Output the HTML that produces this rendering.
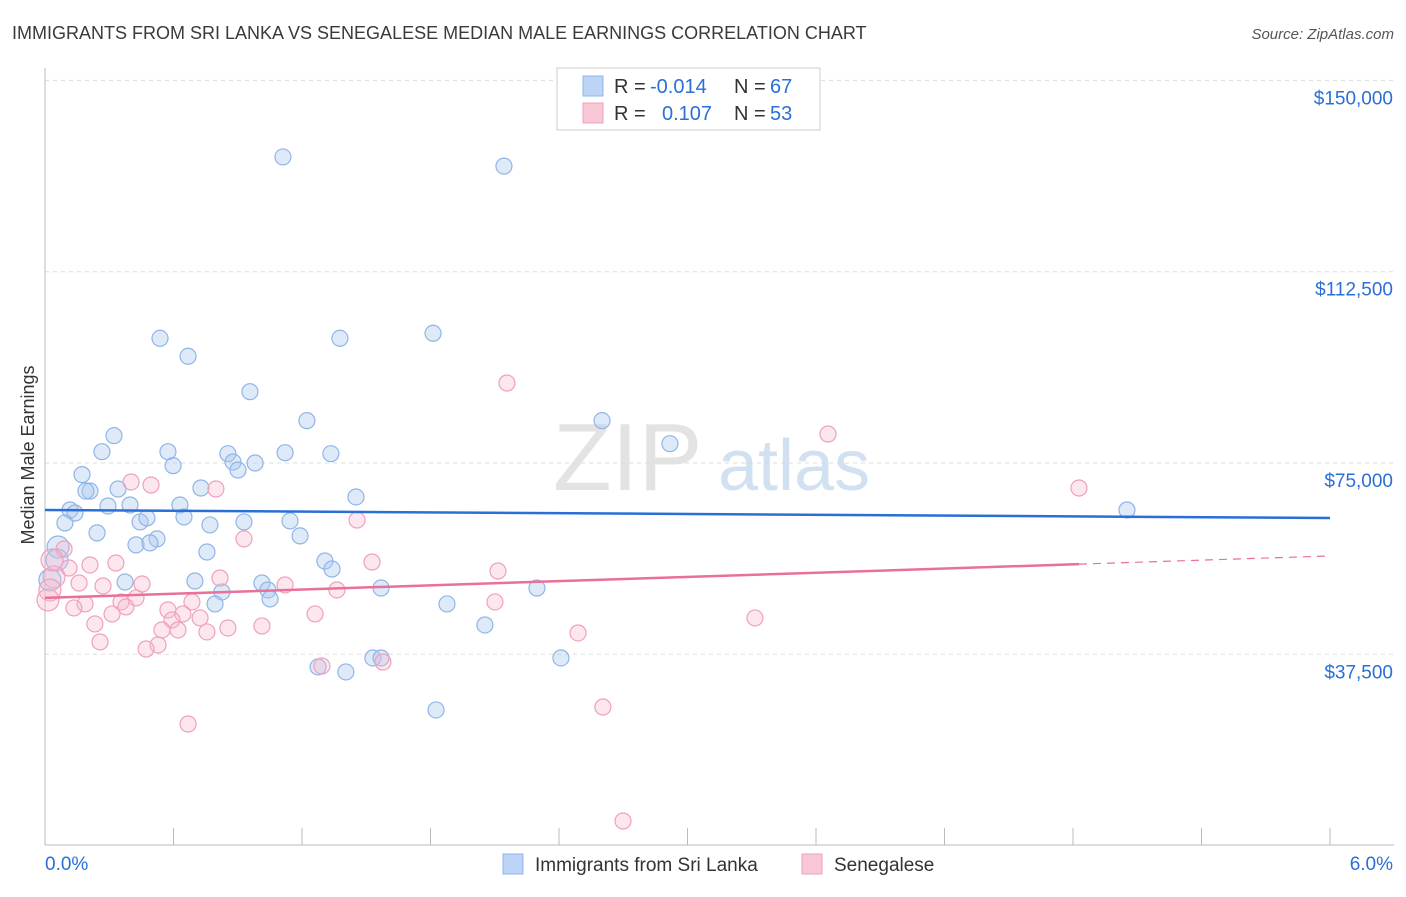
<!DOCTYPE html>
<html><head><meta charset="utf-8"><style>
body{margin:0;background:#fff;font-family:"Liberation Sans",sans-serif;}
svg text{font-family:"Liberation Sans",sans-serif;}
</style></head><body>
<svg id="chart" width="1406" height="892" xmlns="http://www.w3.org/2000/svg">
<text x="12" y="39" font-size="18" fill="#3a3a3a">IMMIGRANTS FROM SRI LANKA VS SENEGALESE MEDIAN MALE EARNINGS CORRELATION CHART</text>
<text x="1394" y="39" font-size="15" fill="#555" text-anchor="end" font-style="italic">Source: ZipAtlas.com</text>
<text transform="translate(34,455) rotate(-90)" font-size="18" fill="#333" text-anchor="middle">Median Male Earnings</text>
<g id="grid"></g>
<text x="553" y="490" font-size="96" fill="#ddd" font-family="Liberation Serif" opacity="0.8">ZIP</text>
<text x="718" y="490" font-size="72" fill="#c8daf0" opacity="0.8">atlas</text>
<g id="pts"></g>
<g id="trend"></g>
<g>
<rect x="557" y="68" width="263" height="62" fill="#fff" stroke="#ccc"/>
<rect x="583" y="76" width="20" height="20" fill="#bcd4f6" stroke="#8fb5e8"/>
<rect x="583" y="103" width="20" height="20" fill="#f9c8d6" stroke="#f0a0bb"/>
<text x="614" y="93" font-size="20" fill="#333">R =</text>
<text x="650" y="93" font-size="20" fill="#2a6fd6">-0.014</text>
<text x="734" y="93" font-size="20" fill="#333">N =</text>
<text x="770" y="93" font-size="20" fill="#2a6fd6">67</text>
<text x="614" y="120" font-size="20" fill="#333">R =</text>
<text x="662" y="120" font-size="20" fill="#2a6fd6">0.107</text>
<text x="734" y="120" font-size="20" fill="#333">N =</text>
<text x="770" y="120" font-size="20" fill="#2a6fd6">53</text>
</g>
<g>
<rect x="503" y="854" width="20" height="20" fill="#bcd4f6" stroke="#8fb5e8"/>
<text x="535" y="871" font-size="19" fill="#333">Immigrants from Sri Lanka</text>
<rect x="802" y="854" width="20" height="20" fill="#f9c8d6" stroke="#f0a0bb"/>
<text x="834" y="871" font-size="19" fill="#333">Senegalese</text>
</g>
</svg>
<script>
const blueX=[1.111,2.143,0.537,0.668,1.377,1.812,0.957,1.223,2.601,2.918,0.322,0.266,0.574,0.854,1.121,1.335,0.598,0.173,0.878,0.901,0.981,0.210,0.191,0.341,0.728,1.452,0.117,0.140,0.294,0.397,0.630,0.093,0.444,0.476,0.649,0.770,0.929,1.144,0.243,0.523,0.425,0.490,1.191,0.756,0.061,0.056,1.307,1.340,0.374,0.700,1.013,1.041,1.569,2.297,0.826,0.794,1.051,1.877,2.054,1.275,1.405,1.531,1.569,2.409,1.826,5.052,0.023];
const blueY=[135000,133200,99450,95920,99450,100430,88980,83300,83300,78790,80360,77220,77220,76830,77020,76830,74480,72720,75200,73630,75000,69510,69510,69900,70100,68340,65790,65200,66570,66770,66770,63250,63450,64230,64430,62860,63450,63650,61300,60120,58950,59340,60710,57550,58530,55990,55790,54220,51670,51870,51480,50110,50500,50500,49720,47370,48350,47370,43250,35020,34040,36780,36780,36780,26590,65790,52070];
const pinkX=[2.157,3.656,4.828,0.402,0.495,0.798,1.457,0.929,0.089,1.527,0.331,0.210,0.112,2.115,0.042,0.817,0.159,0.271,0.453,1.121,1.363,0.023,0.425,0.355,0.686,2.101,0.187,0.135,0.574,0.378,0.313,1.261,0.644,0.724,0.593,3.315,0.233,1.013,0.854,0.546,0.621,0.756,2.489,0.257,0.528,0.472,1.293,1.578,0.668,2.605,2.699,0.014,0.033];
const pinkY=[90680,80680,70100,71280,70690,69900,63820,60120,58140,55590,55400,55010,54410,53830,52660,52460,51480,50890,51280,51090,50110,50110,48550,47760,47760,47760,47370,46590,46190,46790,45410,45410,45410,44630,44240,44630,43450,43060,42660,42270,42270,41880,41680,39920,39330,38540,35210,35990,23840,27170,4820,48160,56000];
const yTicks=[37500,75000,112500,150000];
const yTickLabels=["$37,500","$75,000","$112,500","$150,000"];
const blueTrend=[65790,64220];
const pinkTrend=[48550,56780];
const pinkSolidEnd=4.828;
const NS="http://www.w3.org/2000/svg";
const X=v=>45+v/6*1285, Y=v=>845.6-v/37500*191.3;
function mk(t,a,p){const e=document.createElementNS(NS,t);for(const k in a)e.setAttribute(k,a[k]);p.appendChild(e);return e;}
const g=document.getElementById('grid');
yTicks.forEach((t,i)=>{
 const l=mk('line',{x1:45,x2:1394,y1:Y(t),y2:Y(t),stroke:'#ddd','stroke-dasharray':'4,4'},g);
 
 
 const tx=mk('text',{x:1393,y:Y(t)+24,'font-size':19,fill:'#2a6fd6','text-anchor':'end'},g);
 tx.textContent=yTickLabels[i];
 
 
});
const ax=mk('line',{x1:45,x2:1394,y1:845,y2:845,stroke:'#bbb'},g);


const ay=mk('line',{x1:45,x2:45,y1:68,y2:845,stroke:'#bbb'},g);


for(let i=0;i<=10;i++){const t=mk('line',{x1:X(i*0.6),x2:X(i*0.6),y1:828,y2:845,stroke:'#bbb'},g);
 
 }
const x0=mk('text',{x:45,y:870,'font-size':19,fill:'#2a6fd6'},g);x0.textContent='0.0%';


const x1=mk('text',{x:1393,y:870,'font-size':19,fill:'#2a6fd6','text-anchor':'end'},g);x1.textContent='6.0%';


const p=document.getElementById('pts');
blueX.forEach((v,i)=>{const c=mk('circle',{cx:X(v),cy:Y(blueY[i]),r:v<0.07?11:8,fill:'rgba(170,200,240,0.38)',stroke:'#8fb5e8','stroke-width':1.2},p);
 
 });
pinkX.forEach((v,i)=>{const c=mk('circle',{cx:X(v),cy:Y(pinkY[i]),r:v<0.05?11:8,fill:'rgba(245,185,205,0.34)',stroke:'#f0a0bb','stroke-width':1.2},p);
 
 });
const tr=document.getElementById('trend');
const bl=mk('line',{x1:X(0),y1:Y(blueTrend[0]),x2:X(6),y2:Y(blueTrend[1]),stroke:'#2a6fd6','stroke-width':2.5},tr);


const pm=pinkTrend[0]+(pinkTrend[1]-pinkTrend[0])*pinkSolidEnd/6;
const pl=mk('line',{x1:X(0),y1:Y(pinkTrend[0]),x2:X(pinkSolidEnd),y2:Y(pm),stroke:'#e8709a','stroke-width':2.5},tr);


const pd=mk('line',{x1:X(pinkSolidEnd),y1:Y(pm),x2:X(6),y2:Y(pinkTrend[1]),stroke:'#e8709a','stroke-width':1.2,'stroke-dasharray':'8,6'},tr);


</script>
</body></html>
